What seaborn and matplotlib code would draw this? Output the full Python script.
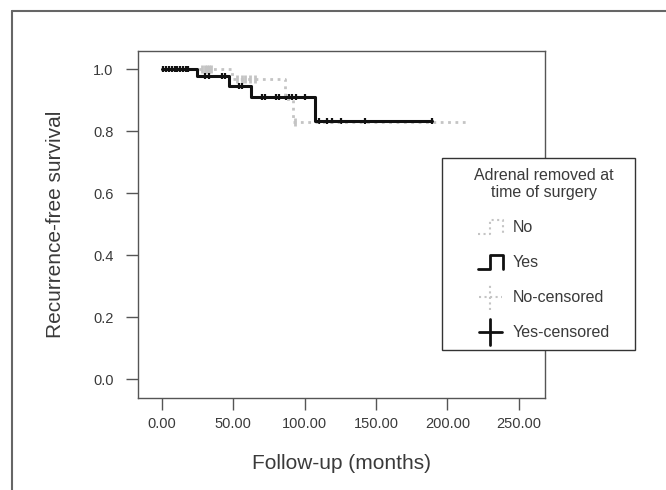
import seaborn as sns
import matplotlib.pyplot as plt
import pandas as pd
import numpy as np
from matplotlib.lines import Line2D
from matplotlib.patches import Rectangle
from matplotlib.legend_handler import HandlerBase
from matplotlib.ticker import FormatStrFormatter

# Kaplan-Meier steps (time in months, survival after the step)
yes_times = [0, 25, 47, 62.5, 107, 189]
yes_surv = [1.0, 0.977, 0.945, 0.912, 0.834, 0.834]
yes_censored = [1, 3, 5, 7, 9, 11, 13, 15, 17, 18.5, 30, 33, 42, 44.5, 54, 56.5,
                70, 72.5, 80, 82, 87, 89, 91, 94, 100, 110, 116, 119, 125.5, 142.5, 189]

no_times = [0, 49, 86, 92, 214]
no_surv = [1.0, 0.969, 0.905, 0.831, 0.831]
no_censored = [28.5, 30, 31.5, 33, 34.5, 52.5, 56.5, 58.5, 62, 65, 93]

x_ticks = [0, 50, 100, 150, 200, 250]
y_ticks = [0.0, 0.2, 0.4, 0.6, 0.8, 1.0]

GREY = '#c4c4c4'
DARK = '#111111'
TXT = '#3a3a3a'


def step_value(times, surv, t):
    i = np.searchsorted(times, t, side='right') - 1
    return np.asarray(surv)[i]


class IconHandler(HandlerBase):
    def __init__(self, kind):
        super().__init__()
        self.kind = kind

    def create_artists(self, legend, orig_handle, xdescent, ydescent,
                       width, height, fontsize, trans):
        x0, y0 = -xdescent, -ydescent
        kw = dict(color=orig_handle.get_color(), lw=orig_handle.get_linewidth(),
                  ls=orig_handle.get_linestyle(), transform=trans)
        if self.kind == 'step':
            xs = [x0, x0 + 0.5 * width, x0 + 0.5 * width, x0 + width, x0 + width]
            ys = [y0 + 0.05 * height, y0 + 0.05 * height, y0 + 0.95 * height,
                  y0 + 0.95 * height, y0 + 0.05 * height]
            return [Line2D(xs, ys, **kw)]
        xm, ym = x0 + width / 2, y0 + height / 2
        h = Line2D([x0 + 0.05 * width, x0 + 0.95 * width], [ym, ym], **kw)
        v = Line2D([xm, xm], [y0 - 0.3 * height, y0 + 1.3 * height], **kw)
        return [h, v]


sns.set_theme(style='white')
plt.rcParams['font.family'] = ['Liberation Sans', 'DejaVu Sans']

yes_df = pd.DataFrame({'time': yes_times, 'surv': yes_surv})
no_df = pd.DataFrame({'time': no_times, 'surv': no_surv})
yes_c = pd.DataFrame({'time': yes_censored,
                      'surv': step_value(yes_times, yes_surv, yes_censored)})
no_c = pd.DataFrame({'time': no_censored,
                     'surv': step_value(no_times, no_surv, no_censored)})

fig = plt.figure(figsize=(6.66, 4.9), dpi=100)
ax = fig.add_axes([138 / 666, 1 - 398 / 490, 407 / 666, 347 / 490])

sns.lineplot(data=no_df, x='time', y='surv', ax=ax, color=GREY, lw=2,
             ls=':', drawstyle='steps-post', estimator=None)
sns.scatterplot(data=no_c, x='time', y='surv', ax=ax, marker='|', s=30,
                linewidth=2, color=GREY)
sns.lineplot(data=yes_df, x='time', y='surv', ax=ax, color=DARK, lw=2.2,
             drawstyle='steps-post', estimator=None)
sns.scatterplot(data=yes_c, x='time', y='surv', ax=ax, marker='|', s=22,
                linewidth=1.6, color=DARK)

ax.set_xlim(-16.6, 268.4)
ax.set_ylim(-0.06, 1.059)
ax.set_xticks(x_ticks)
ax.set_yticks(y_ticks)
ax.xaxis.set_major_formatter(FormatStrFormatter('%.2f'))
ax.yaxis.set_major_formatter(FormatStrFormatter('%.1f'))
ax.tick_params(axis='both', direction='out', length=8.5, width=1, color='#555555',
               labelsize=10.5, labelcolor=TXT, bottom=True, left=True)
ax.tick_params(axis='x', pad=5)
ax.tick_params(axis='y', pad=9)
for s in ax.spines.values():
    s.set_color('#555555')
    s.set_linewidth(1)

ax.set_xlabel('Follow-up (months)', fontsize=15, color=TXT, labelpad=17)
ax.set_ylabel('Recurrence-free survival', fontsize=15, color=TXT, labelpad=20)

h_no = Line2D([], [], color=GREY, lw=1.5, ls=':')
h_yes = Line2D([], [], color=DARK, lw=2)
h_noc = Line2D([], [], color=GREY, lw=1.5, ls=':')
h_yesc = Line2D([], [], color=DARK, lw=2)
leg = ax.legend([h_no, h_yes, h_noc, h_yesc],
                ['No', 'Yes', 'No-censored', 'Yes-censored'],
                handler_map={h_no: IconHandler('step'), h_yes: IconHandler('step'),
                             h_noc: IconHandler('plus'), h_yesc: IconHandler('plus')},
                title='Adrenal removed at\ntime of surgery',
                loc='upper left', bbox_to_anchor=(474 / 666, 1 - 168 / 490),
                bbox_transform=fig.transFigure, borderaxespad=0, borderpad=0,
                fontsize=11.5, title_fontsize=11.5, frameon=False,
                labelspacing=1.15, handlelength=1.6, handleheight=1.2,
                handletextpad=0.6)
leg.get_title().set_color(TXT)
leg.get_title().set_multialignment('center')
for t in leg.get_texts():
    t.set_color(TXT)

# legend box drawn separately so its padding can be wider than tall
fig.add_artist(Rectangle((442 / 666, 1 - 350 / 490), 193 / 666, 192 / 490,
                         transform=fig.transFigure, facecolor='white',
                         edgecolor='#333333', lw=1, zorder=4))
leg.set_zorder(5)
fig.add_artist(leg)

# partial outer frame of the figure panel
fig.add_artist(Line2D([12 / 666, 1], [1 - 11 / 490, 1 - 11 / 490],
                      transform=fig.transFigure, color='#666666', lw=1.5))
fig.add_artist(Line2D([12 / 666, 12 / 666], [0, 1 - 11 / 490],
                      transform=fig.transFigure, color='#666666', lw=1.5))

fig.savefig('out.png', dpi=100)
